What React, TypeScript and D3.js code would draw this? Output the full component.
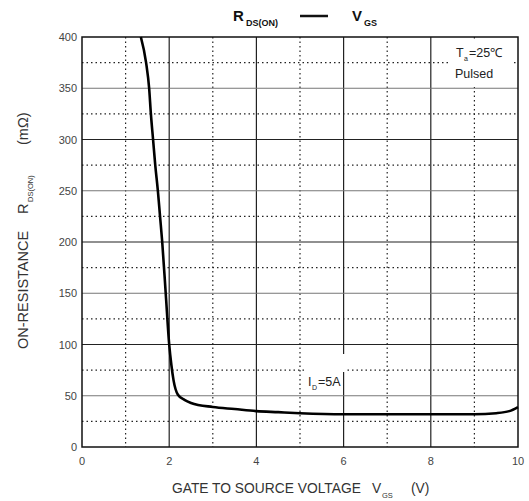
import React from 'react';
import * as d3 from 'd3';

// curve: gate-source voltage (V) vs on-resistance (mΩ)
const vgs = [1.35, 1.47, 1.54, 1.58, 1.63, 1.68, 1.74, 1.79, 1.84, 1.92, 2.0, 2.05, 2.1, 2.2, 2.35, 2.5, 3.0, 3.5, 4.0, 4.5, 5.0, 6.0, 7.0, 8.0, 9.0, 9.5, 9.8, 10.0];
const rds = [400, 375, 350, 325, 300, 275, 250, 225, 200, 150, 100, 80, 65, 51, 46, 43, 39, 37, 35, 34, 33, 32, 32, 32, 32, 33, 35, 39];

const xTicks = [0, 2, 4, 6, 8, 10];
const xDotted = [1, 3, 5, 7, 9];
const yTicks = [0, 50, 100, 150, 200, 250, 300, 350, 400];
const yDotted = [25, 75, 125, 175, 225, 275, 325, 375];

const W = 529;
const H = 501;
const margin = { top: 37, right: 11, bottom: 54, left: 82 };

const App = () => {
  const x = d3.scaleLinear().domain([0, 10]).range([margin.left, W - margin.right]);
  const y = d3.scaleLinear().domain([0, 400]).range([H - margin.bottom, margin.top]);

  const points = vgs.map((v, i) => [v, rds[i]] as [number, number]);
  const line = d3
    .line<[number, number]>()
    .x((d) => x(d[0]))
    .y((d) => y(d[1]))
    .curve(d3.curveMonotoneX);

  const font = 'Arial, "Liberation Sans", sans-serif';

  return (
    <svg
      width={W}
      height={H}
      style={{ position: 'absolute', left: 0, top: 0, background: '#fff' }}
      fontFamily={font}
    >
      {/* title */}
      <g fontWeight="bold" fill="#111">
        <text x={233} y={21} fontSize={15}>R</text>
        <text x={246} y={26} fontSize={9}>DS(ON)</text>
        <line x1={300} x2={328} y1={16} y2={16} stroke="#111" strokeWidth={2.5} />
        <text x={352} y={21} fontSize={15}>V</text>
        <text x={364} y={26} fontSize={9}>GS</text>
      </g>

      {/* dotted grid */}
      <g stroke="#222" strokeWidth={1.2} strokeDasharray="1.5,3">
        {xDotted.map((v) => (
          <line key={'xd' + v} x1={x(v)} x2={x(v)} y1={y(400)} y2={y(0)} />
        ))}
        {yDotted.map((v) => (
          <line key={'yd' + v} x1={x(0)} x2={x(10)} y1={y(v)} y2={y(v)} />
        ))}
      </g>

      {/* solid grid */}
      <g>
        {xTicks.slice(1, -1).map((v) => (
          <line key={'xs' + v} x1={x(v)} x2={x(v)} y1={y(400)} y2={y(0)} stroke="#222" strokeWidth={1.2} />
        ))}
        {yTicks.slice(1, -1).map((v) => (
          <line
            key={'ys' + v}
            x1={x(0)}
            x2={x(10)}
            y1={y(v)}
            y2={y(v)}
            stroke={v % 100 === 0 ? '#222' : '#777'}
            strokeWidth={v % 100 === 0 ? 1.2 : 1}
          />
        ))}
      </g>

      {/* annotation boxes cover the grid */}
      <rect x={451} y={39} width={61} height={48} fill="#fff" />
      <text x={456} y={57} fontSize={12.5} fill="#222">T</text>
      <text x={464} y={61} fontSize={7} fill="#222">a</text>
      <text x={469} y={57} fontSize={12.5} fill="#222">=25℃</text>
      <text x={455} y={78} fontSize={12.5} fill="#222">Pulsed</text>

      <rect x={306} y={354} width={40} height={18} fill="#fff" />
      <text x={308} y={386} fontSize={12.5} fill="#222">I</text>
      <text x={312} y={390} fontSize={7} fill="#222">D</text>
      <text x={318} y={386} fontSize={12.5} fill="#222">=5A</text>

      {/* frame */}
      <rect
        x={x(0)}
        y={y(400)}
        width={x(10) - x(0)}
        height={y(0) - y(400)}
        fill="none"
        stroke="#111"
        strokeWidth={1.5}
      />

      {/* curve */}
      <path d={line(points) || ''} fill="none" stroke="#000" strokeWidth={2.6} />

      {/* y ticks */}
      <g fontSize={11} fill="#444" textAnchor="end">
        {yTicks.map((v) => (
          <text key={'yl' + v} x={x(0) - 5} y={y(v) + 4}>
            {v}
          </text>
        ))}
      </g>
      {/* x ticks */}
      <g fontSize={11} fill="#444" textAnchor="middle">
        {xTicks.map((v) => (
          <text key={'xl' + v} x={x(v)} y={y(0) + 18}>
            {v}
          </text>
        ))}
      </g>

      {/* x label */}
      <g fill="#333">
        <text x={172} y={493} fontSize={13.8}>GATE TO SOURCE VOLTAGE</text>
        <text x={372} y={493} fontSize={13.8}>V</text>
        <text x={382} y={498} fontSize={7.5}>GS</text>
        <text x={411} y={493} fontSize={13.8}>(V)</text>
      </g>

      {/* y label */}
      <g transform="translate(28,349) rotate(-90)" fill="#333">
        <text x={0} y={0} fontSize={14.5}>ON-RESISTANCE</text>
        <text x={135} y={0} fontSize={14.5}>R</text>
        <text x={147} y={5} fontSize={7.5}>DS(ON)</text>
        <text x={204} y={0} fontSize={14.5}>(mΩ)</text>
      </g>
    </svg>
  );
};

export default App;
